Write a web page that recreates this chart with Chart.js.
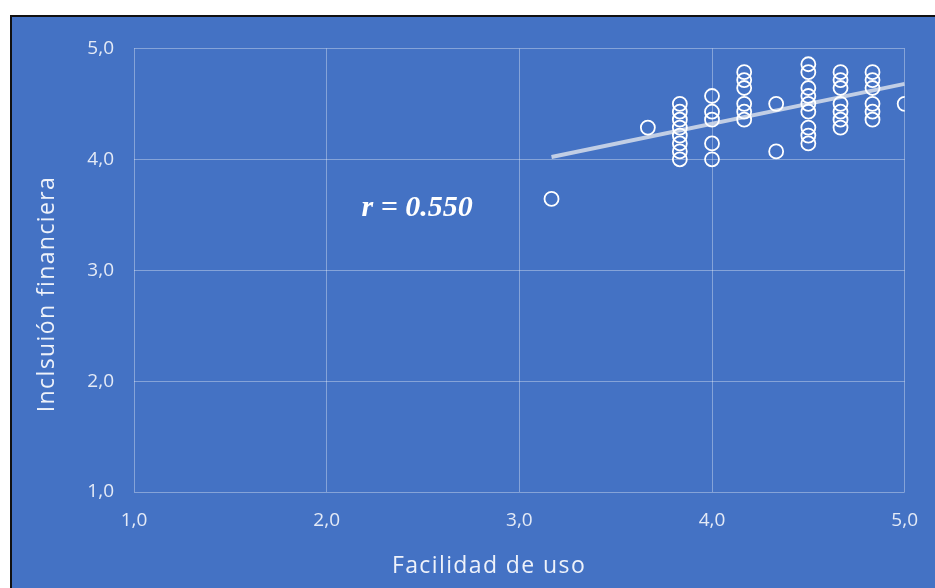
<!DOCTYPE html>
<html>
<head>
<meta charset="utf-8">
<script src="https://cdn.jsdelivr.net/npm/chart.js@4.4.0/dist/chart.umd.min.js"></script>
<style>
  html, body { margin: 0; padding: 0; background: #fff; overflow: hidden; }
  #marco {
    position: absolute; left: 10px; top: 15px;
    width: 940px; height: 590px;
    background: #4472C4; border: 2px solid #111;
  }
  #myChart { position: absolute; left: 0; top: 0; }
</style>
</head>
<body>
<div id="marco"><canvas id="myChart" width="923" height="573"></canvas></div>
<script>
// facilidad de uso (x) e inclusion financiera (y)
var facilidad = [
  3.167,
  3.667,
  3.833, 3.833, 3.833, 3.833, 3.833, 3.833, 3.833, 3.833,
  4.0, 4.0, 4.0, 4.0, 4.0,
  4.167, 4.167, 4.167, 4.167, 4.167, 4.167,
  4.333, 4.333,
  4.5, 4.5, 4.5, 4.5, 4.5, 4.5, 4.5, 4.5, 4.5,
  4.667, 4.667, 4.667, 4.667, 4.667, 4.667, 4.667,
  4.833, 4.833, 4.833, 4.833, 4.833, 4.833,
  5.0
];
var inclusion = [
  3.643,
  4.286,
  4.5, 4.429, 4.357, 4.286, 4.214, 4.143, 4.071, 4.0,
  4.571, 4.429, 4.357, 4.143, 4.0,
  4.786, 4.714, 4.643, 4.5, 4.429, 4.357,
  4.5, 4.071,
  4.857, 4.786, 4.643, 4.571, 4.5, 4.429, 4.286, 4.214, 4.143,
  4.786, 4.714, 4.643, 4.5, 4.429, 4.357, 4.286,
  4.786, 4.714, 4.643, 4.5, 4.429, 4.357,
  4.5
];
// linea de tendencia (extremos)
var tendenciaX = [3.167, 5.0];
var tendenciaY = [4.02, 4.68];
var ticksX = [1, 2, 3, 4, 5];
var ticksY = [1, 2, 3, 4, 5];
var etiquetaR = 'r = 0.550';
var posR = {x: 2.47, y: 3.56};
var tituloX = 'Facilidad de uso';
var tituloY = 'Inclsuión financiera';

var puntos = facilidad.map(function (v, i) { return {x: v, y: inclusion[i]}; });
var tendencia = tendenciaX.map(function (v, i) { return {x: v, y: tendenciaY[i]}; });

var fmt = function (v) { return v.toFixed(1).replace('.', ','); };

// textos: r y titulos de los ejes
var textos = {
  id: 'textos',
  afterDatasetsDraw: function (chart) {
    var c = chart.ctx;
    var px = chart.scales.x.getPixelForValue(posR.x);
    var py = chart.scales.y.getPixelForValue(posR.y);
    c.save();
    c.font = 'italic bold 30px "Liberation Serif"';
    c.fillStyle = '#ffffff';
    c.textAlign = 'center';
    c.textBaseline = 'middle';
    c.fillText(etiquetaR, px, py);

    c.font = '23px "Open Sans"';
    c.fillStyle = '#eef2fa';
    c.letterSpacing = '1.4px';
    c.fillText(tituloX, 477, 549);
    c.translate(35, 277);
    c.rotate(-Math.PI / 2);
    c.fillText(tituloY, 0, 0);
    c.restore();
  }
};

var ctx = document.getElementById('myChart').getContext('2d');
var chart = new Chart(ctx, {
    type: 'scatter',
    data: {
        datasets: [{
            label: 'Tendencia',
            type: 'line',
            data: tendencia,
            borderColor: 'rgba(215,222,235,0.85)',
            borderWidth: 4,
            pointRadius: 0,
            fill: false,
            order: 2
        }, {
            label: 'Datos',
            data: puntos,
            backgroundColor: 'rgba(0,0,0,0)',
            borderColor: '#ffffff',
            borderWidth: 1.8,
            pointRadius: 7,
            order: 1
        }]
    },
    options: {
        responsive: false,
        animation: false,
        layout: { padding: { left: 0, right: 29, top: 29, bottom: 0 } },
        plugins: { legend: { display: false }, tooltip: { enabled: false } },
        scales: {
            x: {
                type: 'linear', min: 1, max: 5,
                afterBuildTicks: function (s) { s.ticks = ticksX.map(function (v) { return {value: v}; }); },
                afterFit: function (s) { s.height = 98; },
                grid: { color: 'rgba(255,255,255,0.35)', drawTicks: false },
                border: { display: false },
                ticks: { color: '#e4eaf6', font: { family: 'Open Sans', size: 19 }, padding: 17, callback: fmt, maxRotation: 0 }
            },
            y: {
                type: 'linear', min: 1, max: 5,
                afterBuildTicks: function (s) { s.ticks = ticksY.map(function (v) { return {value: v}; }); },
                afterFit: function (s) { s.width = 122; },
                grid: { color: 'rgba(255,255,255,0.35)', drawTicks: false },
                border: { display: false },
                ticks: { color: '#e4eaf6', font: { family: 'Open Sans', size: 19 }, padding: 20, callback: fmt }
            }
        }
    },
    plugins: [textos]
});
</script>
</body>
</html>
